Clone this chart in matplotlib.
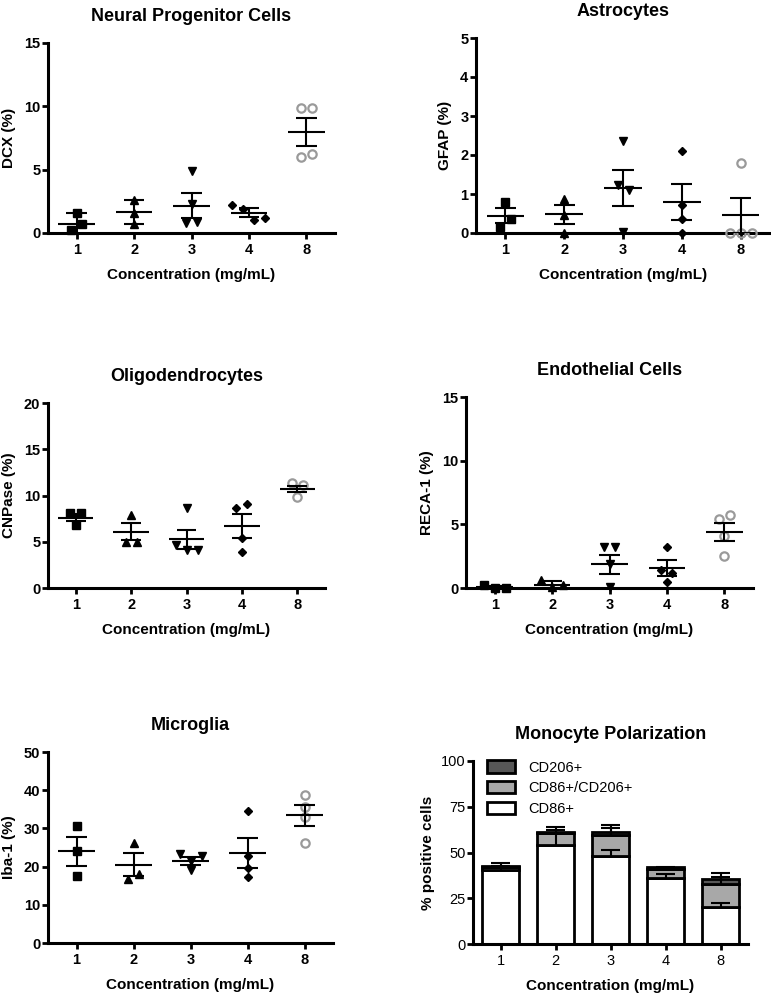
import numpy as np
import matplotlib
matplotlib.use('Agg')
import matplotlib.pyplot as plt
from matplotlib.patches import Patch

plt.rcParams['font.family'] = ['Liberation Sans', 'DejaVu Sans']

# --- data ---
conc = ['1', '2', '3', '4', '8']

dcx_pts = [[1.6, 0.2, 0.7], [2.6, 0.7, 1.6], [4.9, 2.3, 0.8, 0.9], [2.2, 1.9, 1.05, 1.2], [9.9, 9.9, 6.0, 6.2]]
dcx_mean = [0.7, 1.65, 2.15, 1.6, 7.95]
dcx_sem = [0.9, 0.95, 0.97, 0.35, 1.1]

gfap_pts = [[0.8, 0.15, 0.35], [0.88, 0.47, 0.0], [2.35, 1.22, 1.09, 0.03], [2.1, 0.72, 0.37, 0.0], [1.8, 0.0, 0.0, 0.0]]
gfap_mean = [0.44, 0.48, 1.16, 0.8, 0.46]
gfap_sem = [0.19, 0.25, 0.46, 0.46, 0.45]

cnp_pts = [[8.1, 8.1, 6.8], [7.9, 5.0, 5.0], [4.6, 4.1, 4.1, 8.6], [8.7, 9.1, 5.4, 3.9], [11.4, 11.1, 9.8]]
cnp_mean = [7.6, 6.1, 5.25, 6.7, 10.7]
cnp_sem = [0.4, 0.95, 1.06, 1.26, 0.36]

reca_pts = [[0.25, 0.0, 0.0], [0.6, 0.05, 0.2], [3.2, 3.2, 1.9, 0.05], [3.25, 1.45, 1.2, 0.45], [5.4, 5.75, 4.05, 2.55]]
reca_mean = [0.08, 0.27, 1.85, 1.58, 4.43]
reca_sem = [0.08, 0.25, 0.78, 0.63, 0.7]

iba_pts = [[30.5, 24.0, 17.5], [16.8, 26.3, 18.1], [23.3, 21.4, 22.9, 19.0], [34.5, 22.8, 17.2, 19.6], [38.7, 35.6, 33.1, 26.1]]
iba_mean = [24.0, 20.5, 21.5, 23.5, 33.4]
iba_sem = [3.8, 3.0, 1.0, 3.9, 2.8]

cd86 = [40.4, 54.1, 48.1, 36.2, 20.0]
cd86_sem = [1.2, 6.5, 3.3, 2.1, 2.2]
cd86_cd206 = [1.6, 6.4, 11.5, 4.8, 12.8]
cd86_cd206_sem = [0.8, 1.8, 3.6, 0.8, 3.6]
cd206 = [0.8, 0.9, 1.8, 0.9, 2.5]
cd206_sem = [1.6, 2.7, 3.6, 0.4, 3.3]

W, H = 771, 996
fig = plt.figure(figsize=(W / 100, H / 100), dpi=100)


def px_axes(l, r, t, b):
    return fig.add_axes([l / W, 1 - b / H, (r - l) / W, (b - t) / H])


def style(ax, ymax, step, title, ylabel, bold_ticks=True):
    ax.set_xlim(-0.5, 4.5)
    ax.set_ylim(0, ymax)
    ax.set_yticks(np.arange(0, ymax + step / 2, step))
    ax.set_xticks(range(5))
    ax.set_xticklabels(conc)
    for s in ['top', 'right']:
        ax.spines[s].set_visible(False)
    for s in ['left', 'bottom']:
        ax.spines[s].set_linewidth(2.2)
    ax.tick_params(axis='both', width=2.0, length=4.5, labelsize=10.5, colors='black')
    ax.tick_params(axis='x', pad=2.5)
    ax.tick_params(axis='y', pad=1)
    for lab in ax.get_xticklabels() + ax.get_yticklabels():
        lab.set_fontweight('bold' if bold_ticks else 'normal')
    ax.set_title(title, fontsize=13, fontweight='bold', pad=16)
    ax.set_ylabel(ylabel, fontsize=11, fontweight='bold', labelpad=6)
    ax.set_xlabel('Concentration (mg/mL)', fontsize=11, fontweight='bold', labelpad=8)


markers = [('s', 5.3), ('^', 5.8), ('v', 5.8), ('D', 4.3), ('o', 6)]


def swarm_offsets(vals, px_per_unit, x_px_per_unit, thr=9, d=11):
    vals = list(vals)
    order = np.argsort(vals)
    clusters = [[order[0]]]
    for i in order[1:]:
        if (vals[i] - vals[clusters[-1][-1]]) * px_per_unit < thr:
            clusters[-1].append(i)
        else:
            clusters.append([i])
    offs = np.zeros(len(vals))
    for c in clusters:
        c = sorted(c)
        n = len(c)
        for k, i in enumerate(c):
            offs[i] = (k - (n - 1) / 2) * d / x_px_per_unit
    return offs


def scatter_panel(ax, pts, means, sems, ymax, w_px, h_px):
    ypu = h_px / ymax
    xpu = w_px / 5.0
    for i, grp in enumerate(pts):
        m, ms = markers[i]
        offs = swarm_offsets(grp, ypu, xpu)
        if m == 'o':
            ax.plot(i + offs, grp, ls='none', marker='o', ms=ms, mfc='none',
                    mec='#9a9a9a', mew=1.6, clip_on=False, zorder=3)
        else:
            ax.plot(i + offs, grp, ls='none', marker=m, ms=ms, color='black',
                    clip_on=False, zorder=3)
        ax.hlines(means[i], i - 0.32, i + 0.32, color='black', lw=1.5, zorder=4)
        lo, hi = means[i] - sems[i], means[i] + sems[i]
        ax.vlines(i, max(lo, 0), hi, color='black', lw=1.5, zorder=4)
        ax.hlines(hi, i - 0.18, i + 0.18, color='black', lw=1.5, zorder=4)
        if lo >= 0:
            ax.hlines(lo, i - 0.18, i + 0.18, color='black', lw=1.5, zorder=4)


panels = [
    ((48, 335, 43, 233), dcx_pts, dcx_mean, dcx_sem, 15, 5, 'Neural Progenitor Cells', 'DCX (%)'),
    ((476, 770, 38, 233), gfap_pts, gfap_mean, gfap_sem, 5, 1, 'Astrocytes', 'GFAP (%)'),
    ((48, 325, 403, 588), cnp_pts, cnp_mean, cnp_sem, 20, 5, 'Oligodendrocytes', 'CNPase (%)'),
    ((466, 753, 397, 588), reca_pts, reca_mean, reca_sem, 15, 5, 'Endothelial Cells', 'RECA-1 (%)'),
    ((48, 333, 752, 943), iba_pts, iba_mean, iba_sem, 50, 10, 'Microglia', 'Iba-1 (%)'),
]

for rect, pts, means, sems, ymax, step, title, ylabel in panels:
    ax = px_axes(*rect)
    style(ax, ymax, step, title, ylabel)
    scatter_panel(ax, pts, means, sems, ymax, rect[1] - rect[0], rect[3] - rect[2])

# Monocyte polarization stacked bars
ax = px_axes(473, 748, 761, 944)
style(ax, 100, 25, 'Monocyte Polarization', '% positive cells', bold_ticks=False)
ax.set_ylabel('% positive cells', fontsize=11, fontweight='bold', labelpad=4)
x = np.arange(5)
bw = 0.68
seg_vals = [cd86, cd86_cd206, cd206]
seg_sems = [cd86_sem, cd86_cd206_sem, cd206_sem]
seg_cols = ['white', '#a8a8a8', '#575757']
seg_names = ['CD86+', 'CD86+/CD206+', 'CD206+']
bottom = np.zeros(5)
tops = []
for vals, col in zip(seg_vals, seg_cols):
    ax.bar(x, vals, bw, bottom=bottom, color=col, edgecolor='black', linewidth=2.0, zorder=2)
    bottom = bottom + np.array(vals)
    tops.append(bottom.copy())
for top, sem in zip(tops, seg_sems):
    ax.vlines(x, top, top + np.array(sem), color='black', lw=1.5, zorder=4)
    ax.hlines(top + np.array(sem), x - 0.18, x + 0.18, color='black', lw=1.5, zorder=4)
handles = [Patch(facecolor=c, edgecolor='black', linewidth=2.0, label=n)
           for c, n in zip(seg_cols[::-1], seg_names[::-1])]
ax.legend(handles=handles, loc='upper left', bbox_to_anchor=(0.03, 1.035), frameon=False,
          fontsize=10.5, handlelength=1.9, handleheight=0.9, labelspacing=0.45, handletextpad=0.9,
          borderaxespad=0)

fig.savefig('out.png', dpi=100)
